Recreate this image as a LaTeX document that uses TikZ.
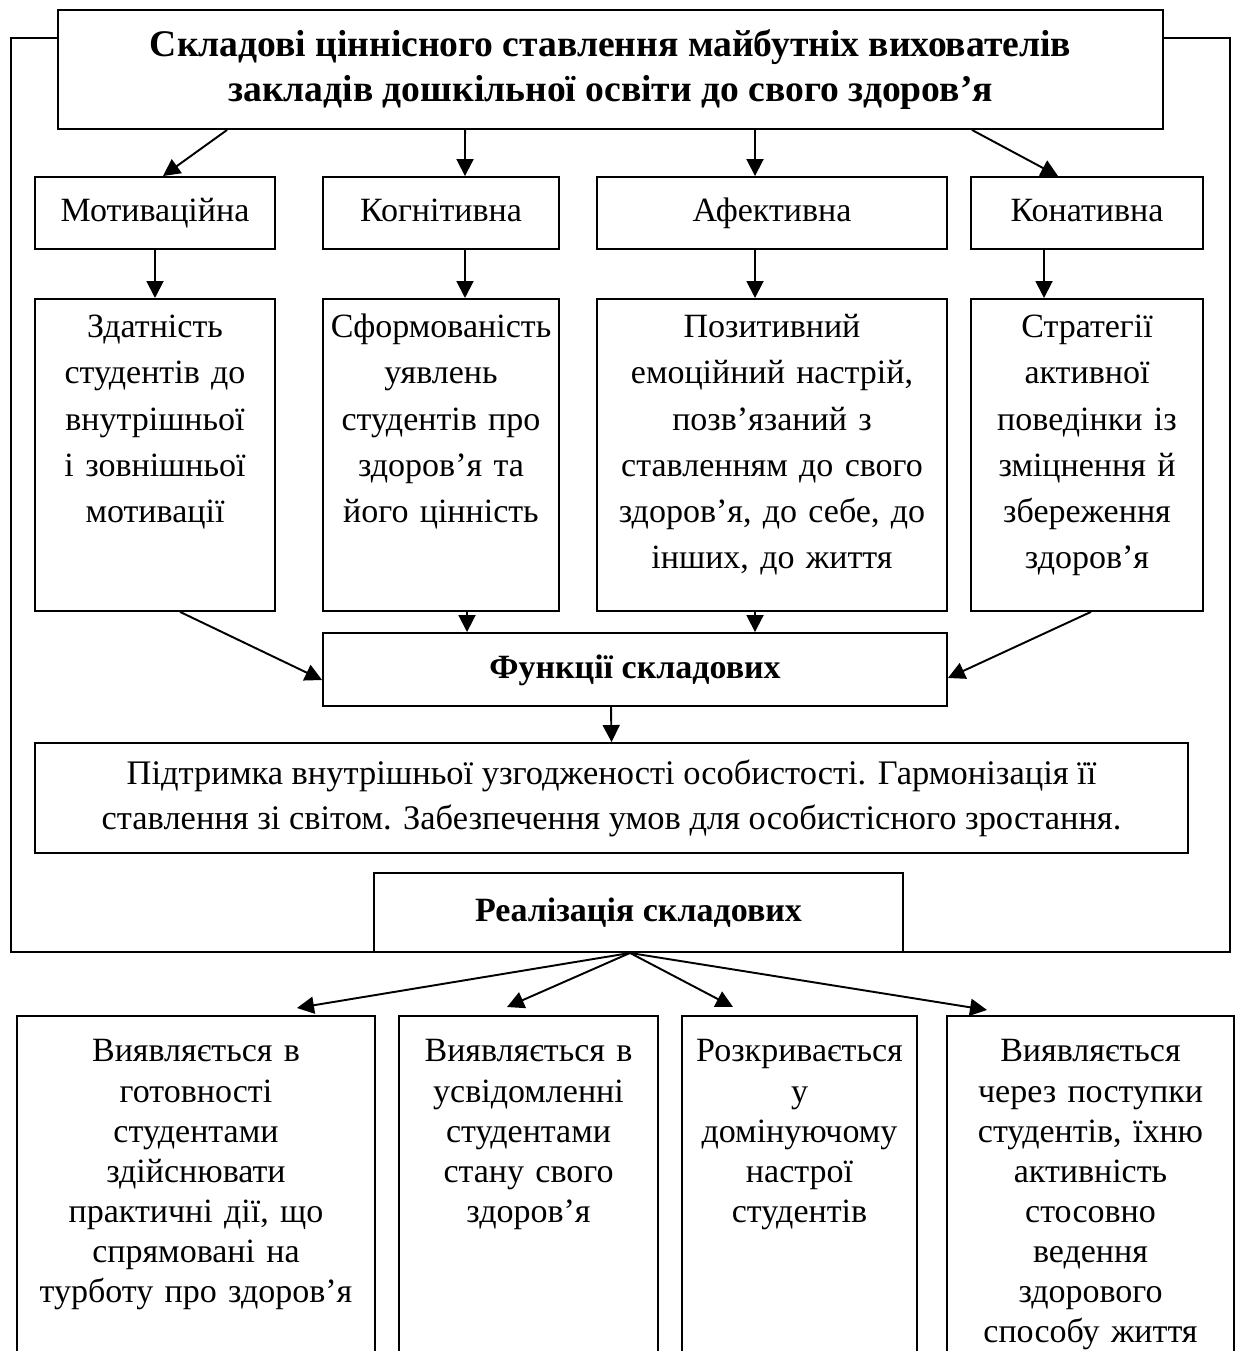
\documentclass[tikz,border=0pt]{standalone}
\usepackage{fontspec}
\setmainfont{Liberation Serif}
\usetikzlibrary{arrows.meta}

\newcommand{\bodyfont}{\fontsize{19.35pt}{26.2pt}\selectfont}
\newcommand{\lowfont}{\fontsize{19.35pt}{22.8pt}\selectfont}
\newcommand{\midfont}{\fontsize{19.6pt}{25.6pt}\selectfont}
\newcommand{\headfont}{\fontsize{21.4pt}{25.6pt}\selectfont\bfseries}

\tikzset{
  box/.style={draw, fill=white, line width=1.1pt, inner sep=0pt, align=center},
  line/.style={box, text height=0.44cm, text depth=0.08cm},
  col/.style={box, text width=#1, text height=0.78cm, text depth=5.46cm},
  low/.style={box, font=\lowfont, text width=#1, text height=0.92cm, text depth=6.78cm},
  arr/.style={line width=1.1pt, -{Triangle[length=0.34cm, width=0.34cm]}},
}

\begin{document}
\begin{tikzpicture}[x=0.02cm, y=-0.02cm, font=\bodyfont]
  \useasboundingbox (0,0) rectangle (1243,1351);
  \clip (0,0) rectangle (1243,1351);

  \draw [line width=1.1pt] (11,38) rectangle (1230,952);

  \node [box, font=\headfont, minimum width=22.1cm, minimum height=2.38cm] (title) at (610.5,69.5)
    {Складові ціннісного ставлення майбутніх вихователів\\ закладів дошкільної освіти до свого здоров’я};

  \node [line, minimum width=4.8cm, minimum height=1.44cm] (mot1) at (155,213) {Мотиваційна};
  \node [line, minimum width=4.72cm, minimum height=1.44cm] (kog1) at (441,213) {Когнітивна};
  \node [line, minimum width=7cm, minimum height=1.44cm] (afe1) at (772,213) {Афективна};
  \node [line, minimum width=4.64cm, minimum height=1.44cm] (kon1) at (1087,213) {Конативна};

  \node [col=4.8cm, anchor=north] (mot2) at (155,298)
    {Здатність\\ студентів до\\ внутрішньої\\ і зовнішньої\\ мотивації};
  \node [col=4.72cm, anchor=north] (kog2) at (441,298)
    {Сформованість\\ уявлень\\ студентів про\\ здоров’я та\\ його цінність};
  \node [col=7cm, anchor=north] (afe2) at (772,298)
    {Позитивний\\ емоційний настрій,\\ позв’язаний з\\ ставленням до свого\\ здоров’я, до себе, до\\ інших, до життя};
  \node [col=4.64cm, anchor=north] (kon2) at (1087,298)
    {Стратегії\\ активної\\ поведінки із\\ зміцнення й\\ збереження\\ здоров’я};

  \node [line, font=\bodyfont\bfseries, minimum width=12.48cm, minimum height=1.46cm] (funk) at (635,669.5) {Функції складових};

  \node [box, font=\midfont, minimum width=23.06cm, minimum height=2.2cm] (pidt) at (611.5,798)
    {Підтримка внутрішньої узгодженості особистості. Гармонізація її\\ ставлення зі світом. Забезпечення умов для особистісного зростання.};

  \node [line, font=\bodyfont\bfseries, minimum width=10.58cm, minimum height=1.58cm] (real) at (638.5,912.5) {Реалізація складових};

  \node [low=7.16cm, anchor=north] (vyav1) at (196,1015)
    {Виявляється в\\ готовності\\ студентами\\ здійснювати\\ практичні дії, що\\ спрямовані на\\ турботу про здоров’я};
  \node [low=5.18cm, anchor=north] (vyav2) at (528.5,1015)
    {Виявляється в\\ усвідомленні\\ студентами\\ стану свого\\ здоров’я};
  \node [low=4.7cm, anchor=north] (rozkr) at (799.5,1015)
    {Розкривається\\ у\\ домінуючому\\ настрої\\ студентів};
  \node [low=5.74cm, anchor=north] (vyav3) at (1090.5,1015)
    {Виявляється\\ через поступки\\ студентів, їхню\\ активність\\ стосовно\\ ведення\\ здорового\\ способу життя};

  \draw [arr] ([xshift=-7.67cm]title.south) -- ([xshift=0.16cm]mot1.north);
  \draw [arr] ([xshift=-2.91cm]title.south) -- ([xshift=0.48cm]kog1.north);
  \draw [arr] ([xshift=2.89cm]title.south) -- ([xshift=-0.34cm]afe1.north);
  \draw [arr] ([xshift=7.23cm]title.south) -- ([xshift=-0.58cm]kon1.north);

  \draw [arr] (mot1.south) -- (mot2.north);
  \draw [arr] ([xshift=0.48cm]kog1.south) -- ([xshift=0.48cm]kog2.north);
  \draw [arr] ([xshift=-0.34cm]afe1.south) -- ([xshift=-0.34cm]afe2.north);
  \draw [arr] ([xshift=-0.86cm]kon1.south) -- ([xshift=-0.86cm]kon2.north);

  \draw [arr] ([xshift=0.5cm]mot2.south) -- ([yshift=-0.21cm]funk.west);
  \draw [arr] ([xshift=0.52cm]kog2.south) -- ([xshift=-3.36cm]funk.north);
  \draw [arr] ([xshift=-0.34cm]afe2.south) -- ([xshift=2.4cm]funk.north);
  \draw [arr] ([xshift=0.08cm]kon2.south) -- ([yshift=-0.17cm]funk.east);

  \draw [arr] ([xshift=-0.48cm]funk.south) -- (pidt.north);

  \draw [arr] ([xshift=-0.17cm]real.south) -- ([xshift=2.02cm, yshift=0.14cm]vyav1.north);
  \draw [arr] ([xshift=-0.17cm]real.south) -- ([xshift=-0.43cm, yshift=0.16cm]vyav2.north);
  \draw [arr] ([xshift=-0.17cm]real.south) -- ([xshift=-1.33cm, yshift=0.16cm]rozkr.north);
  \draw [arr] ([xshift=-0.17cm]real.south) -- ([xshift=-2.07cm, yshift=0.1cm]vyav3.north);
\end{tikzpicture}
\end{document}
